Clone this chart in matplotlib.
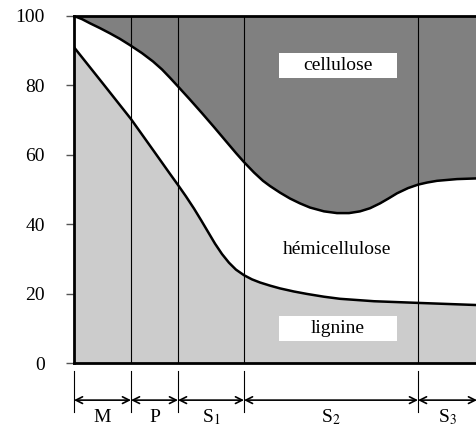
import matplotlib
matplotlib.use('Agg')
import matplotlib.pyplot as plt
from matplotlib.patches import Rectangle

# layer boundaries along the wall (arbitrary distance units)
bounds = [0, 57, 104, 170, 344]
x_end = 403
layers = ['M', 'P', 'S$_1$', 'S$_2$', 'S$_3$']

# cellulose / hemicellulose boundary (upper curve)
up_x = [0, 8, 16, 26, 36, 46, 56, 68, 79, 88, 96, 104, 116, 128, 140, 152,
        162, 170, 180, 189, 196, 206, 216, 226, 236, 250, 263, 275, 286, 296,
        306, 315, 323, 334, 344, 353, 363, 383, 403]
up_y = [100, 99.1, 97.9, 96.5, 95.0, 93.4, 91.6, 89.3, 86.9, 84.6, 82.2, 79.7, 75.9, 72.0, 68.0, 63.9,
        60.5, 57.9, 54.9, 52.5, 51.0, 49.1, 47.4, 46.0, 44.8, 43.7, 43.2, 43.2, 43.7, 44.6,
        46, 47.5, 48.9, 50.4, 51.4, 52.0, 52.5, 53.0, 53.2]

# hemicellulose / lignine boundary (lower curve)
lo_x = [0, 29, 57, 80, 96, 104, 112, 120, 127, 134, 141, 148, 155, 162, 170,
        178, 186, 196, 206, 220, 233, 250, 266, 300, 346, 403]
lo_y = [91, 80.5, 70.3, 61.0, 54.5, 51.3, 48.0, 44.5, 41.2, 37.8, 34.4, 31.4, 28.9, 26.9, 25.3,
        24.1, 23.2, 22.3, 21.5, 20.6, 19.9, 19.1, 18.5, 17.8, 17.3, 16.7]

yticks = [0, 20, 40, 60, 80, 100]

plt.rcParams['font.family'] = 'Liberation Serif'
plt.rcParams['mathtext.fontset'] = 'stix'

fig = plt.figure(figsize=(4.77, 4.30), dpi=100)
ax = fig.add_axes([74/477, 1 - 363/430, 403/477, 347/430])
ax.set_xlim(0, x_end)
ax.set_ylim(0, 100)

ax.fill_between(lo_x, 0, lo_y, color='#cccccc', lw=0, zorder=1)
ax.fill_between(up_x, up_y, 100, color='#808080', lw=0, zorder=1)
for b in bounds[1:]:
  ax.axvline(b, color='black', lw=0.8, zorder=2)
ax.plot(up_x, up_y, color='black', lw=1.8, zorder=3, solid_joinstyle='round')
ax.plot(lo_x, lo_y, color='black', lw=1.8, zorder=3, solid_joinstyle='round')

# labels
for txt, xc, yc, box in [('cellulose', 264, 85.6, True),
                         ('hémicellulose', 263, 32.6, False),
                         ('lignine', 264, 10.0, True)]:
  if box:
    ax.add_patch(Rectangle((xc - 59, yc - 3.6), 118, 7.2, facecolor='white',
                           edgecolor='none', zorder=4))
  ax.text(xc, yc, txt, ha='center', va='center', fontsize=14, zorder=5)

ax.spines['right'].set_visible(False)
for s in ['left', 'bottom', 'top']:
  ax.spines[s].set_linewidth(2)
ax.set_xticks([])
ax.set_yticks(yticks)
ax.tick_params(axis='y', length=6, width=1, color='#555555', pad=15, labelsize=14)

# layer extents under the axis
ext = bounds + [x_end]
for b in bounds:
  ax.plot([b, b], [-2.3, -14], color='black', lw=0.8, clip_on=False)
for i, name in enumerate(layers):
  ax.annotate('', xy=(ext[i], -10.7), xytext=(ext[i + 1], -10.7),
              xycoords='data', annotation_clip=False,
              arrowprops=dict(arrowstyle='<->', color='black', lw=1.2,
                              shrinkA=0, shrinkB=0, mutation_scale=12))
  ax.text((ext[i] + ext[i + 1]) / 2, -15.6, name, ha='center', va='center',
          fontsize=14, clip_on=False)

fig.savefig('out.png', dpi=100)
